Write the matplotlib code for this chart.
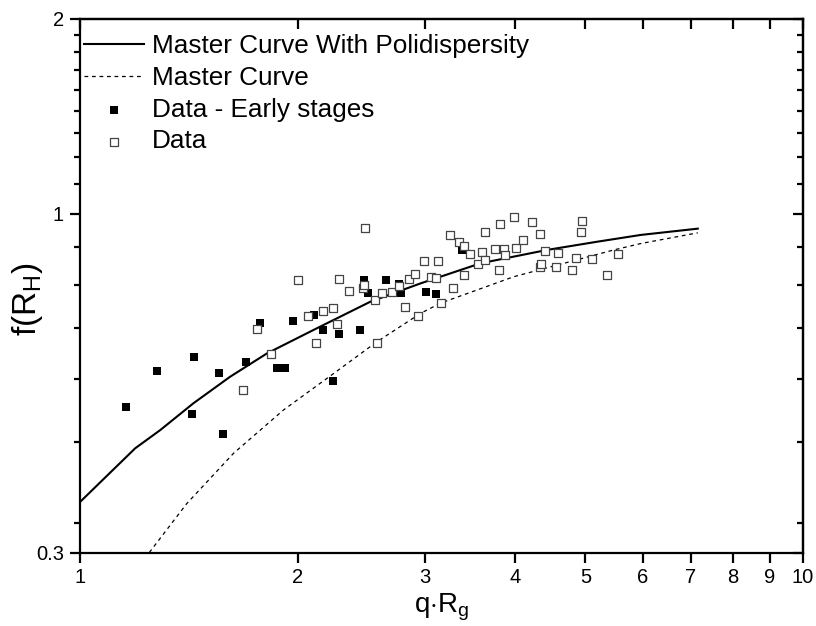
import matplotlib
matplotlib.use("Agg")
import matplotlib.pyplot as plt
import numpy as np

plt.rcParams['font.family'] = ['Liberation Sans', 'DejaVu Sans']
plt.rcParams['mathtext.fontset'] = 'custom'
plt.rcParams['mathtext.rm'] = 'Liberation Sans'
plt.rcParams['mathtext.it'] = 'Liberation Sans:italic'

# Master curve with polydispersity (solid)
poly_x = [1.0, 1.192, 1.291, 1.435, 1.613, 1.814, 2.104, 2.522, 2.957, 3.581, 4.43, 5.196, 5.965, 7.153]
poly_y = [0.359, 0.4345, 0.4636, 0.510, 0.5605, 0.609, 0.662, 0.732, 0.781, 0.839, 0.880, 0.906, 0.928, 0.949]

# Master curve (dashed)
master_x = [1.247, 1.405, 1.631, 1.912, 2.243, 2.576, 2.957, 3.151, 3.982, 4.671, 5.479, 5.965, 7.153]
master_y = [0.300, 0.357, 0.427, 0.498, 0.567, 0.635, 0.702, 0.728, 0.800, 0.839, 0.880, 0.900, 0.935]

# Data - early stages (filled squares)
early_x = [1.158, 1.277, 1.437, 1.428, 1.558, 1.576, 1.698, 1.774, 1.873, 1.919, 1.968, 2.107,
           2.171, 2.282, 2.236, 2.440, 2.472, 2.506, 2.648, 2.766, 2.777, 3.008, 3.112, 3.372]
early_y = [0.503, 0.572, 0.601, 0.491, 0.567, 0.458, 0.590, 0.678, 0.578, 0.579, 0.683, 0.698,
           0.661, 0.652, 0.552, 0.661, 0.792, 0.755, 0.790, 0.779, 0.754, 0.757, 0.753, 0.879]

# Data (open squares)
data_x = [2.478, 2.000, 2.279, 2.358, 2.464, 2.469, 2.559, 2.614, 2.697, 2.760, 2.853, 2.908,
          2.811, 2.932, 2.069, 2.166, 2.236, 2.267, 2.118, 2.576, 1.757, 1.839, 1.680, 2.989,
          3.125, 3.056, 3.106, 3.155, 3.280, 3.244, 3.346, 3.395, 3.458, 3.395, 3.550, 3.596,
          3.635, 3.635, 3.748, 3.805, 3.858, 3.875, 3.802, 3.982, 4.008, 4.099, 4.214, 4.326,
          4.402, 4.326, 4.346, 4.553, 4.582, 4.786, 4.848, 4.942, 4.931, 5.107, 5.363, 5.543]
data_y = [0.950, 0.790, 0.794, 0.759, 0.768, 0.777, 0.736, 0.754, 0.757, 0.774, 0.794, 0.808,
          0.717, 0.696, 0.695, 0.707, 0.715, 0.675, 0.631, 0.631, 0.665, 0.608, 0.535, 0.847,
          0.847, 0.798, 0.795, 0.729, 0.768, 0.927, 0.904, 0.891, 0.867, 0.805, 0.836, 0.874,
          0.849, 0.937, 0.884, 0.964, 0.882, 0.863, 0.818, 0.988, 0.885, 0.911, 0.972, 0.931,
          0.876, 0.827, 0.837, 0.827, 0.871, 0.818, 0.855, 0.975, 0.937, 0.851, 0.804, 0.867]

x_ticks = [1, 2, 3, 4, 5, 6, 7, 8, 9, 10]
y_major = [0.3, 1, 2]
y_major_labels = ['0.3', '1', '2']
y_minor = [3/9, 4/9, 5/9, 6/9, 7/9, 8/9, 1 + 1/9, 1 + 2/9, 1 + 3/9, 1 + 4/9, 1 + 5/9, 1 + 6/9, 1 + 7/9, 1 + 8/9]

fig = plt.figure(figsize=(8.16, 6.26), dpi=100)
ax = fig.add_axes([80/816, 73.5/626, 723/816, 533.5/626])

ax.plot(poly_x, poly_y, color='black', lw=1.5, label='Master Curve With Polidispersity')
ax.plot(master_x, master_y, color='black', lw=0.9, linestyle=(0, (3, 3)), label='Master Curve')
ax.scatter(early_x, early_y, marker='s', s=32, color='black', linewidths=0, label='Data - Early stages', zorder=3)
ax.scatter(data_x, data_y, marker='s', s=32, facecolors='white', edgecolors='#444444', linewidths=0.9,
           label='Data', zorder=3)

ax.set_xscale('log')
ax.set_yscale('log')
ax.set_xlim(1, 10)
ax.set_ylim(0.3, 2)

ax.set_xticks(x_ticks)
ax.set_xticklabels([str(t) for t in x_ticks])
ax.xaxis.set_minor_locator(matplotlib.ticker.NullLocator())
ax.set_yticks(y_major)
ax.set_yticklabels(y_major_labels)
ax.set_yticks(y_minor, minor=True)
ax.yaxis.set_minor_formatter(matplotlib.ticker.NullFormatter())

for s in ax.spines.values():
    s.set_linewidth(1.6)

ax.tick_params(axis='both', which='major', direction='out', length=7.5, width=1.6, labelsize=14.5, pad=4)
ax.tick_params(axis='both', which='minor', direction='out', length=4.5, width=1.6)

secx = ax.secondary_xaxis('top')
secx.set_xticks(x_ticks)
secx.xaxis.set_minor_locator(matplotlib.ticker.NullLocator())
secx.tick_params(direction='in', length=7, width=1.6, labeltop=False)
secx.spines['top'].set_linewidth(1.6)

secy = ax.secondary_yaxis('right')
secy.set_yticks(y_major)
secy.set_yticks(y_minor, minor=True)
secy.tick_params(which='major', direction='in', length=7, width=1.6, labelright=False)
secy.tick_params(which='minor', direction='in', length=4.5, width=1.6, labelright=False)
secy.yaxis.set_minor_formatter(matplotlib.ticker.NullFormatter())
secy.spines['right'].set_linewidth(1.6)

ax.set_xlabel(r'q$\cdot$R$_\mathregular{g}$', fontsize=20, labelpad=3)
ax.set_ylabel(r'f(R$_\mathregular{H}$)', fontsize=24)
ax.yaxis.set_label_coords(-0.048, 0.475)

leg = ax.legend(loc='upper left', bbox_to_anchor=(0.006, 0.972), frameon=False, fontsize=18.8,
                handlelength=2.3, handletextpad=0.3, labelspacing=0.3, borderpad=0, borderaxespad=0,
                scatterpoints=1)

fig.savefig('out.png', dpi=100)
